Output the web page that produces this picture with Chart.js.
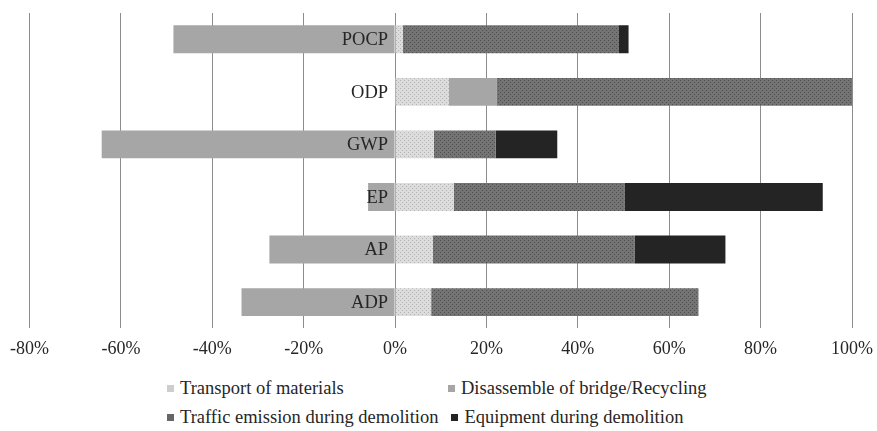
<!DOCTYPE html>
<html>
<head>
<meta charset="utf-8">
<script src="https://cdn.jsdelivr.net/npm/chart.js@4"></script>
<style>
  html, body { margin:0; padding:0; background:#fff; }
  #wrap { position:relative; width:877px; height:431px; overflow:hidden; }
  #box { position:absolute; left:0; top:0; width:883px; height:370px; }
  #legend { position:absolute; left:167px; top:374px; font:18.5px "Liberation Serif", serif; color:#262626; line-height:29px; white-space:nowrap; }
  #legend .it { display:inline-block; }
  #legend .sw { display:inline-block; width:7px; height:7px; margin-right:6px; vertical-align:2px; }
</style>
</head>
<body>
<div id="wrap">
  <div id="box"><canvas id="lcaChart"></canvas></div>
  <div id="legend"></div>
</div>
<script>
// impact categories, top to bottom
const categories = ['POCP', 'ODP', 'GWP', 'EP', 'AP', 'ADP'];
// contributions in %
const transport   = [1.7, 11.8, 8.5, 12.9, 8.3, 7.9];
const disassemble = [-48.5, 10.5, -64.2, -5.9, -27.5, -33.6];
const traffic     = [47.3, 77.7, 13.5, 37.3, 44.1, 58.5];
const equipment   = [2.1, 0, 13.5, 43.4, 19.9, 0];
const seriesNames = ['Transport of materials', 'Disassemble of bridge/Recycling', 'Traffic emission during demolition', 'Equipment during demolition'];
const xTicks = [-80, -60, -40, -20, 0, 20, 40, 60, 80, 100];

const FONT = '"Liberation Serif", serif';

function dots(base, dot){
  const c = document.createElement('canvas'); c.width = 4; c.height = 4;
  const g = c.getContext('2d');
  g.fillStyle = base; g.fillRect(0,0,4,4);
  g.fillStyle = dot; g.fillRect(0,0,1,1); g.fillRect(2,2,1,1);
  return g.createPattern(c, 'repeat');
}

const fills = [dots('#dcdcdc', '#b4b4b4'), '#a6a6a6', dots('#747474', '#4e4e4e'), '#242424'];
const swatch = ['#cdcdcd', '#a6a6a6', '#666666', '#242424'];

// category names sit just left of the zero line
const zeroLabels = {
  id: 'zeroLabels',
  afterDatasetsDraw(chart){
    const {ctx, scales:{x, y}} = chart;
    const x0 = x.getPixelForValue(0);
    ctx.save();
    ctx.font = '18.5px ' + FONT; ctx.fillStyle = '#262626';
    ctx.textAlign = 'right'; ctx.textBaseline = 'middle';
    categories.forEach((c, i) => ctx.fillText(c, x0 - 7, y.getPixelForValue(i) + 1));
    ctx.restore();
  }
};

const data = [transport, disassemble, traffic, equipment];
const ctx = document.getElementById('lcaChart').getContext('2d');
new Chart(ctx, {
  type: 'bar',
  data: {
    labels: categories,
    datasets: data.map((d, i) => ({ label: seriesNames[i], data: d, backgroundColor: fills[i], borderWidth: 0, barPercentage: 0.53, categoryPercentage: 1 }))
  },
  options: {
    indexAxis: 'y',
    responsive: true, maintainAspectRatio: false, animation: false,
    layout: { padding: { top: 13, left: 5, right: 0, bottom: 0 } },
    scales: {
      x: {
        stacked: true, min: -80, max: 100,
        afterBuildTicks: s => { s.ticks = xTicks.map(v => ({ value: v })); },
        ticks: { callback: v => v + '%', color: '#262626', font: { family: FONT, size: 18 }, padding: 10, maxRotation: 0 },
        grid: { color: '#8c8c8c', lineWidth: 1, drawTicks: false },
        border: { display: false }
      },
      y: {
        stacked: true, position: { x: 0 },
        ticks: { display: false },
        grid: { display: false },
        border: { display: false }
      }
    },
    plugins: { legend: { display: false }, tooltip: { enabled: false } }
  },
  plugins: [zeroLabels]
});

// legend: two rows like the source figure
const lg = document.getElementById('legend');
const item = (i, css) => `<span class="it" style="${css || ''}"><span class="sw" style="background:${swatch[i]}"></span>${seriesNames[i]}</span>`;
lg.innerHTML = `<div>${item(0, 'width:281px')}${item(1)}</div><div>${item(2, 'margin-right:13px')}${item(3)}</div>`;
</script>
</body>
</html>
